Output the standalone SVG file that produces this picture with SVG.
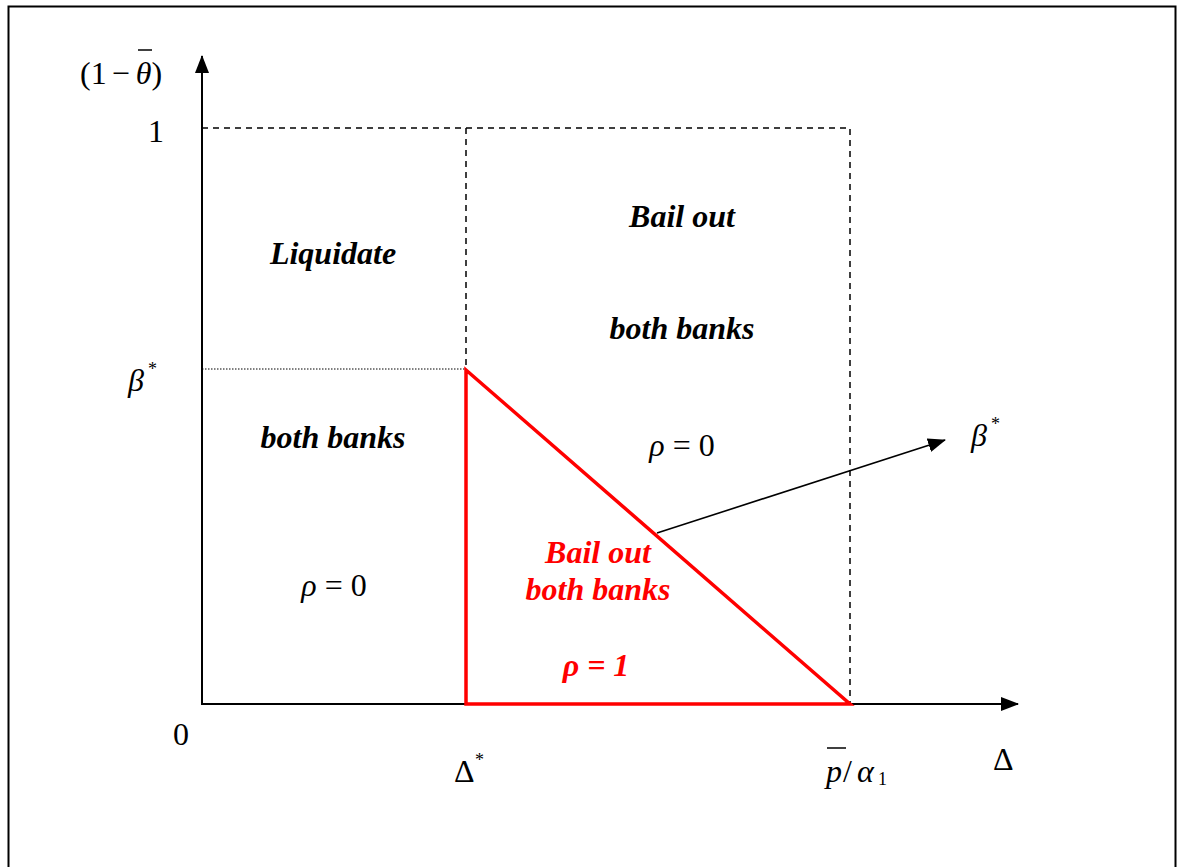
<svg xmlns="http://www.w3.org/2000/svg" width="1177" height="867" viewBox="0 0 1177 867">
<style>
.t{font-family:"Liberation Serif","Times New Roman",serif;font-size:32px;fill:#000}
.bi{font-weight:bold;font-style:italic}
.it{font-style:italic}
.sup{font-size:18px}
.red{fill:#ff0000}
.ax{stroke:#000;stroke-width:2;fill:none}
.dash{stroke:#000;stroke-width:1.5;stroke-dasharray:6,5;fill:none}
</style>
<defs>
<marker id="ah2" markerWidth="18" markerHeight="14" refX="17" refY="7" orient="auto" markerUnits="userSpaceOnUse">
<path d="M0,0 L18,7 L0,14 z" fill="#000"/>
</marker>
</defs>
<rect x="8.5" y="6.5" width="1167" height="880" fill="none" stroke="#000" stroke-width="2"/>
<g id="connectors">
<line class="ax" x1="202" y1="705" x2="202" y2="56" marker-end="url(#ah2)"/>
<line class="ax" x1="201" y1="704" x2="1018" y2="704" marker-end="url(#ah2)"/>
<polyline class="dash" points="202,128 850,128 850,704"/>
<line class="dash" x1="466" y1="128" x2="466" y2="369"/>
<line x1="202" y1="369" x2="466" y2="369" stroke="#000" stroke-width="1" stroke-dasharray="1.5,1.5"/>
<line x1="657" y1="533" x2="945" y2="440" stroke="#000" stroke-width="1.6" marker-end="url(#ah2)"/>
</g>
<g id="triangle">
<polygon points="466,370 466,704 850,704" fill="none" stroke="#ff0000" stroke-width="3.5"/>
</g>
<g id="axis-labels">
<text class="t" x="80" y="84">(1<tspan dx="5">−</tspan><tspan class="it" dx="6">θ</tspan>)</text>
<line x1="138" y1="50" x2="152" y2="50" stroke="#000" stroke-width="1.5"/>
<text class="t" x="148" y="142">1</text>
<text class="t it" x="128" y="391">β</text>
<text class="t sup" x="148" y="375">*</text>
<text class="t" x="173" y="745">0</text>
<text class="t" x="454" y="782">Δ</text>
<text class="t sup" x="475" y="766">*</text>
<text class="t it" x="826" y="782">p</text>
<line x1="827" y1="748" x2="846" y2="748" stroke="#000" stroke-width="1.5"/>
<text class="t" x="843" y="782" font-size="38">/</text>
<text class="t it" x="857" y="782">α</text>
<text class="t sup" x="878" y="785">1</text>
<text class="t" x="993" y="770">Δ</text>
<text class="t it" x="971" y="446">β</text>
<text class="t sup" x="991" y="430">*</text>
</g>
<g id="left-region">
<text class="t bi" x="333" y="264" text-anchor="middle">Liquidate</text>
<text class="t bi" x="333" y="448" text-anchor="middle">both banks</text>
<text class="t" x="334" y="596" text-anchor="middle"><tspan class="it">ρ</tspan> = 0</text>
</g>
<g id="right-region">
<text class="t bi" x="682" y="227" text-anchor="middle">Bail out</text>
<text class="t bi" x="682" y="339" text-anchor="middle">both banks</text>
<text class="t" x="682" y="456" text-anchor="middle"><tspan class="it">ρ</tspan> = 0</text>
</g>
<g id="triangle-region">
<text class="t bi red" x="598" y="563" text-anchor="middle">Bail out</text>
<text class="t bi red" x="598" y="600" text-anchor="middle">both banks</text>
<text class="t bi red" x="596" y="676" text-anchor="middle"><tspan font-style="italic">ρ</tspan> = 1</text>
</g>
</svg>
